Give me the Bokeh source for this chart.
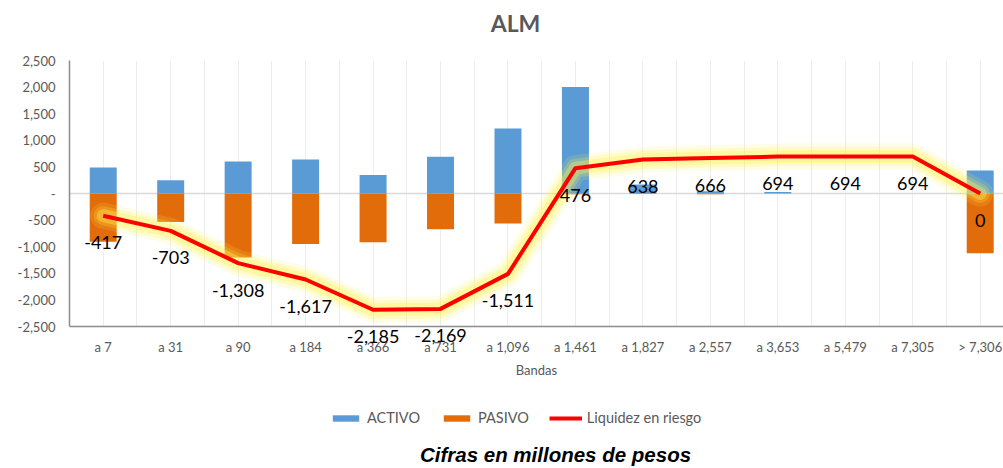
import numpy as np
from bokeh.plotting import figure
from bokeh.models import (ColumnDataSource, FixedTicker, NumeralTickFormatter, LabelSet, Label,
                          Legend, LegendItem, Range1d, Span)
from bokeh.layouts import column
from bokeh.core.properties import value
from bokeh.embed import file_html
from bokeh.resources import INLINE

categories = ["a 7", "a 31", "a 90", "a 184", "a 366", "a 731", "a 1,096", "a 1,461",
              "a 1,827", "a 2,557", "a 3,653", "a 5,479", "a 7,305", "> 7,306"]
activo = [490, 250, 600, 640, 350, 690, 1220, 2000, 170, 40, 28, 0, 0, 430]
pasivo = [-907, -536, -1205, -949, -918, -674, -562, -13, -8, -12, 0, 0, 0, -1124]
liquidez = [-417, -703, -1308, -1617, -2185, -2169, -1511, 476, 638, 666, 694, 694, 694, 0]
y_ticks = [-2500, -2000, -1500, -1000, -500, 0, 500, 1000, 1500, 2000, 2500]
series_names = ["ACTIVO", "PASIVO", "Liquidez en riesgo"]

BLUE, ORANGE, RED = "#5B9BD5", "#E36C0A", "#FF0000"
GRAY, AX = "#595959", "#8c8c8c"

n = len(categories)
xs = [i + 0.5 for i in range(n)]
src = ColumnDataSource(dict(x=xs, cat=categories, activo=activo, pasivo=pasivo,
                            liq=liquidez, lab=[f"{v:,}" for v in liquidez]))

W = 1003
LEFT = 69
CAT_PX = 67.46                      # width of one category band in pixels
H0, H1, H2 = 50, 340, 78            # header, chart, legend/footer strip
PAD_TOP = 10
AXIS_TOP_PX, AXIS_BOTTOM_PX, FRAME_BOTTOM_PX = 60, 326, 362   # page positions
px_per_unit = (AXIS_BOTTOM_PX - AXIS_TOP_PX) / (y_ticks[-1] - y_ticks[0])
y_start = y_ticks[0] - (FRAME_BOTTOM_PX - AXIS_BOTTOM_PX) / px_per_unit
x_end = (W - LEFT) / CAT_PX


def strip(height):
    f = figure(width=W, height=height, output_backend="svg", toolbar_location=None,
               x_range=Range1d(LEFT, W), y_range=Range1d(0, height),
               min_border_left=LEFT, min_border_right=0, min_border_top=0, min_border_bottom=0)
    f.axis.visible = False
    f.grid.visible = False
    f.outline_line_color = None
    f.background_fill_color = "white"
    f.border_fill_color = "white"
    return f


# ---- header ----
h = strip(H0)
h.add_layout(Label(x=515, y=H0 - 22, text="ALM", text_align="center", text_baseline="middle",
                   text_font="Lato", text_font_style="bold", text_font_size="23px",
                   text_color=GRAY))

# ---- chart ----
p = figure(width=W, height=H1, output_backend="svg", toolbar_location=None,
           x_range=Range1d(0, x_end), y_range=Range1d(y_start, y_ticks[-1]),
           min_border_left=LEFT, min_border_right=0, min_border_top=PAD_TOP,
           min_border_bottom=H0 + H1 - FRAME_BOTTOM_PX)
p.background_fill_color = "white"
p.border_fill_color = "white"
p.outline_line_color = None

p.xaxis.ticker = FixedTicker(ticks=xs)
p.xaxis.major_label_overrides = {x: c for x, c in zip(xs, categories)}
p.xaxis.axis_label = "Bandas"
p.xaxis.axis_label_text_font = "Lato"
p.xaxis.axis_label_text_font_style = "normal"
p.xaxis.axis_label_text_font_size = "13px"
p.xaxis.axis_label_text_color = GRAY
p.xaxis.axis_label_standoff = 4
p.xaxis.axis_line_color = None
p.yaxis.ticker = FixedTicker(ticks=y_ticks)
p.yaxis.formatter = NumeralTickFormatter(format="0,0")
p.yaxis.major_label_overrides = {0: "-"}
p.yaxis.bounds = (y_ticks[0], y_ticks[-1])
p.yaxis.axis_line_color = AX
p.yaxis.axis_line_width = 1.5
for ax in (p.xaxis[0], p.yaxis[0]):
    ax.major_label_text_font = "Lato"
    ax.major_label_text_font_size = "13px"
    ax.major_label_text_color = GRAY
    ax.major_tick_line_color = None
    ax.minor_tick_line_color = None
    ax.major_tick_out = 0
    ax.major_tick_in = 0
    ax.minor_tick_out = 0
p.xaxis.major_label_standoff = -(FRAME_BOTTOM_PX - AXIS_BOTTOM_PX) + 12
p.yaxis.major_label_standoff = 14

p.xgrid.ticker = FixedTicker(ticks=[i * 0.5 for i in range(2 * n + 1)])
p.xgrid.grid_line_color = "#ededed"
try:
    p.xgrid.cross_bounds = (y_ticks[0], y_ticks[-1])
except Exception:
    pass
p.ygrid.ticker = FixedTicker(ticks=[0, y_ticks[-1]])
p.ygrid.grid_line_color = "#d9d9d9"
p.ygrid.grid_line_width = 1.5
p.add_layout(Span(location=y_ticks[0], dimension="width", line_color=AX, line_width=1.5))

p.vbar(x="x", top="activo", bottom=0, width=0.4, source=src, fill_color=BLUE, line_color=None)
p.vbar(x="x", top="pasivo", bottom=0, width=0.4, source=src, fill_color=ORANGE, line_color=None)

for w, a in [(26, 0.14), (19, 0.2), (13, 0.35)]:
    p.line("x", "liq", source=src, line_width=w, line_color="#FFF44F", line_alpha=a,
           line_join="round", line_cap="round")
p.line("x", "liq", source=src, line_width=4, line_color=RED, line_join="round")

p.add_layout(LabelSet(x="x", y="liq", text="lab", source=src, y_offset=-27,
                      text_align="center", text_baseline="middle",
                      text_font=value("Lato"), text_font_size="18px", text_color="black"))

# ---- legend + footer strip ----
q = strip(H2)
dummy = ColumnDataSource(dict(x=np.array([np.nan]), y=np.array([np.nan])))
l_act = q.vbar(x="x", top="y", width=1, source=dummy, fill_color=BLUE, line_color=None)
l_pas = q.vbar(x="x", top="y", width=1, source=dummy, fill_color=ORANGE, line_color=None)
l_liq = q.line("x", "y", source=dummy, line_width=4, line_color=RED)
legend = Legend(items=[LegendItem(label=nm, renderers=[r])
                       for nm, r in zip(series_names, [l_act, l_pas, l_liq])],
                orientation="horizontal", location=(329 - LEFT, 42),
                glyph_width=33, glyph_height=8, label_height=16, label_standoff=5, spacing=20,
                label_text_font="Lato", label_text_font_size="14.5px", label_text_color=GRAY,
                background_fill_alpha=0, border_line_color=None, padding=0, margin=0)
q.add_layout(legend, "center")
q.add_layout(Label(x=555, y=14, text="Cifras en millones de pesos", text_align="center",
                   text_baseline="middle", text_font="Liberation Sans",
                   text_font_style="bold italic", text_font_size="20.5px", text_color="black"))

open("out.html", "w").write(file_html(column(h, p, q, spacing=0), INLINE))
